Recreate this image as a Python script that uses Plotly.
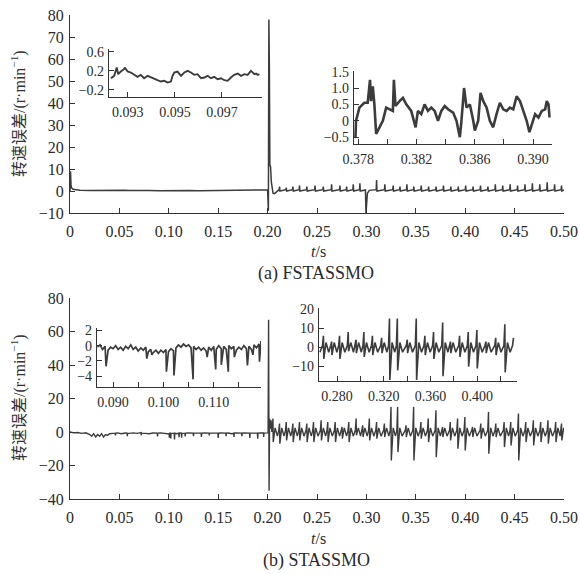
import plotly.graph_objects as go

W_FIG, H_FIG = 580, 574
LINE = "#3c3c3c"
AX = "#333333"
SERIF = "Liberation Serif, Times New Roman, serif"
CJK = "Liberation Serif, Noto Sans CJK SC, serif"

# ---------------- (a) FSTASSMO main trace ----------------
a_t = [0, 0.0005, 0.001, 0.0015, 0.003, 0.006, 0.010, 0.020, 0.030, 0.040, 0.050, 0.055,
       0.060, 0.070, 0.080, 0.090, 0.100, 0.110, 0.120, 0.130, 0.140, 0.150, 0.160, 0.170,
       0.180, 0.185, 0.190, 0.195, 0.2000, 0.2008, 0.2013, 0.2018, 0.2023, 0.2030, 0.2038,
       0.2046, 0.2055, 0.2070, 0.5]
a_v = [0, 9, 3, 1.5, 0.8, 0.5, 0.3, 0.2, 0.3, 0.2, 0.5, 0.3,
       0.2, 0.3, 0.2, 0.1, 0.2, 0.3, 0.2, 0.1, 0.2, 0.3, 0.2, 0.3,
       0.5, 0.4, 0.6, 0.5, 0.5, -9, 78, 55, 12, 11, 4,
       0, -1, -1.2, 0.5]
a_spk_t = [0.2121, 0.2189, 0.2256, 0.2323, 0.2397, 0.2480, 0.2564, 0.2648, 0.2732, 0.2800,
           0.2867, 0.2934, 0.3103, 0.3187, 0.3271, 0.3340, 0.3410, 0.3480, 0.3555, 0.3630,
           0.3705, 0.3780, 0.3855, 0.3930, 0.4005, 0.4080, 0.4155, 0.4230, 0.4305, 0.4380,
           0.4455, 0.4530, 0.4605, 0.4680, 0.4755, 0.4830, 0.4905, 0.4975]
a_spk_h = [2, 1.5, 2, 2.5, 2, 2.5, 2, 3, 2.5, 2,
           3, 3.5, 5, 3, 2.5, 2, 3, 2, 2.5, 2,
           2, 2.5, 2, 2, 2.5, 2, 2.5, 2, 3, 2.5,
           3, 2.5, 3, 3.5, 3, 4, 3, 2.5]
a_base_hi, a_base_lo = 0.6, 0.0
a_dip_t = [0.2990, 0.2996, 0.3001, 0.3010, 0.3030]
a_dip_v = [0.5, -10, -4, -1, 0.3]

# ---------------- (b) STASSMO main trace ----------------
b_pre_t = [0, 0.004, 0.008, 0.012, 0.016,
           0.020, 0.022, 0.024, 0.026, 0.028, 0.030, 0.032, 0.034, 0.036, 0.038, 0.040,
           0.044, 0.048, 0.052, 0.056, 0.060, 0.064, 0.068, 0.072, 0.076, 0.080,
           0.084, 0.088, 0.092, 0.096, 0.100, 0.104, 0.108, 0.112, 0.116, 0.120,
           0.124, 0.128, 0.132, 0.136, 0.140, 0.144, 0.148, 0.152, 0.156, 0.160,
           0.164, 0.168, 0.172, 0.176, 0.180, 0.184, 0.188, 0.192, 0.196, 0.2000]
b_pre_v = [0, -0.5, -0.3, -0.8, -0.5,
           -1.5, -2.5, -1, -3, -1.5, -2.5, -1, -3, -1.5, -2, -1,
           -0.8, -0.5, -1, -0.6, -0.8, -0.5, -0.8, -0.4, -0.8, -1,
           -0.6, -1, -0.5, -0.8, -1.2, -0.8, -1, -0.6, -0.9, -0.5,
           -1, -0.7, -0.9, -0.6, -1, -0.7, -0.8, -0.5, -0.9, -0.6,
           -1, -0.5, -0.8, -0.6, -0.9, -0.7, -0.8, -0.5, -0.6, -0.5]
b_dn_t = [0.046, 0.058, 0.072, 0.0886, 0.1006, 0.1020, 0.1058, 0.1104, 0.1130, 0.1166,
          0.125, 0.133, 0.141, 0.150, 0.158, 0.166, 0.174, 0.182, 0.190, 0.196]
b_dn_v = [-2, -2.5, -2, -2.7, -3.4, -3.9, -4.4, -3.1, -3.4, -2.6,
          -2.5, -3, -2, -3.5, -2.5, -3, -2.5, -3.5, -4, -3]
b_ev_t = [0.2005, 0.2010, 0.2015, 0.2020, 0.2027, 0.2035, 0.2043]
b_ev_v = [-0.5, 67, -35, 8, 2, 7, 0]
b_spk_t = [0.2054, 0.2121, 0.2189, 0.2256, 0.2323, 0.2397, 0.2465, 0.2542, 0.2609, 0.2684,
           0.2754, 0.2822, 0.2896, 0.2963, 0.3030, 0.3103, 0.3182, 0.3249, 0.3316, 0.3401,
           0.3478, 0.3552, 0.3626, 0.3704, 0.3771, 0.3849, 0.3923, 0.3997, 0.4074, 0.4158,
           0.4236, 0.4310, 0.4394, 0.4461, 0.4539, 0.4613, 0.4690, 0.4764, 0.4838, 0.4916,
           0.4975]
b_spk_hi = [8, 5, 6, 5, 6, 5, 6, 7, 6, 6,
            3, 6, 8, 4, 8, 6, 5, 15, 15, 4,
            15, 6, 8, 13, 3, 6, 8, 9, 3, 5,
            12, 5, 6, 6, 11, 6, 7, 6, 7, 6,
            5]
b_spk_lo = [-6, -7, -5, -6, -5, -6, -6, -5, -6, -6,
            -4, -6, -2, -3, -5, -4, -3, -17, -12, -3,
            -17, -4, -6, -15, -3, -5, -10, -11, -3, -4,
            -13, -3, -9, -8, -17, -6, -8, -6, -7, -6,
            -5]
b_zig_hi, b_zig_lo, b_pre_spk = 2.5, -2.5, 1.0

# ---------------- insets ----------------
i1_t = [0.09228, 0.09242, 0.09253, 0.09259, 0.09270, 0.09284, 0.09287, 0.09299, 0.09313, 0.09327,
        0.09341, 0.09355, 0.09369, 0.09384, 0.09398, 0.09412, 0.09426, 0.09440, 0.09455, 0.09469,
        0.09483, 0.09490, 0.09497, 0.09511, 0.09526, 0.09540, 0.09554, 0.09568, 0.09582, 0.09596,
        0.09611, 0.09625, 0.09639, 0.09653, 0.09667, 0.09682, 0.09696, 0.09710, 0.09724, 0.09738,
        0.09752, 0.09767, 0.09781, 0.09795, 0.09809, 0.09823, 0.09830, 0.09838, 0.09845, 0.09852,
        0.09859]
i1_v = [0.045, 0.095, 0.27, 0.13, 0.186, 0.235, 0.27, 0.186, 0.165, 0.116,
        0.074, 0.116, 0.045, 0.095, 0.06, 0.025, 0.003, -0.025, -0.01, -0.046,
        -0.025, 0.095, 0.165, 0.186, 0.095, 0.165, 0.2, 0.165, 0.116, 0.13,
        0.045, 0.06, 0.095, 0.045, 0.074, 0.025, 0.045, 0.003, -0.01, 0.06,
        0.116, 0.144, 0.095, 0.13, 0.116, 0.2, 0.165, 0.13, 0.144, 0.116,
        0.13]

i2_t = [0.37780, 0.37784, 0.37807, 0.37841, 0.37864, 0.37880, 0.37887, 0.37899, 0.37910, 0.37922,
        0.37945, 0.37968, 0.37991, 0.38014, 0.38037, 0.38044, 0.38055, 0.38083, 0.38106, 0.38129,
        0.38163, 0.38193, 0.38209, 0.38232, 0.38255, 0.38278, 0.38301, 0.38324, 0.38347, 0.38370,
        0.38393, 0.38416, 0.38451, 0.38474, 0.38497, 0.38508, 0.38526, 0.38543, 0.38566, 0.38589,
        0.38600, 0.38623, 0.38639, 0.38658, 0.38681, 0.38703, 0.38726, 0.38749, 0.38772, 0.38795,
        0.38818, 0.38841, 0.38864, 0.38887, 0.38910, 0.38933, 0.38956, 0.38975, 0.38991, 0.39014,
        0.39037, 0.39060, 0.39083, 0.39094, 0.39106, 0.39113]
i2_v = [-0.5, 0.0, 0.4, 0.55, 0.55, 1.25, 0.6, 1.05, 0.5, -0.4,
        -0.2, 0.0, 0.4, 0.35, 0.3, 1.25, 0.45, 0.6, 0.7, 0.5,
        0.3, -0.2, 0.3, 0.2, 0.5, 0.3, 0.4, 0.3, 0.0, 0.3,
        0.45, 0.35, 0.25, 0.0, -0.5, 0.0, 1.0, 0.4, 0.5, 0.0,
        -0.3, 0.0, 0.85, 0.6, 0.4, 0.0, -0.2, 0.2, 0.55, 0.35,
        0.3, 0.4, 0.35, 0.75, 0.6, 0.3, 0.0, -0.35, -0.1, 0.2,
        0.1, 0.3, 0.35, 0.6, 0.5, 0.1]

i3_t = [0.0869, 0.0874, 0.0879, 0.0884, 0.0890, 0.0895, 0.0900, 0.0905, 0.0910, 0.0915,
        0.0920, 0.0925, 0.0930, 0.0935, 0.0940, 0.0945, 0.0950, 0.0955, 0.0960, 0.0965,
        0.0970, 0.0975, 0.0980, 0.0985, 0.0990, 0.0995, 0.1000, 0.1005, 0.1010, 0.1015,
        0.1020, 0.1025, 0.1030, 0.1035, 0.1040, 0.1045, 0.1050, 0.1055, 0.1060, 0.1065,
        0.1070, 0.1075, 0.1080, 0.1085, 0.1090, 0.1095, 0.1100, 0.1105, 0.1110, 0.1115,
        0.1120, 0.1125, 0.1130, 0.1135, 0.1140, 0.1145, 0.1150, 0.1155, 0.1160, 0.1165,
        0.1170, 0.1175, 0.1180, 0.1185, 0.1190, 0.1194]
i3_v = [-0.2, 0.1, -0.5, -0.1, -0.6, -0.2, -0.4, 0.0, -0.5, -0.2,
        -0.6, -0.1, -0.4, 0.1, -0.5, -0.2, -0.7, -0.3, -0.6, -0.2,
        -0.8, -0.5, -0.9, -0.6, -1.0, -0.6, -0.9, -0.5, -0.8, -0.4,
        -0.7, -0.3, 0.1, -0.2, 0.2, -0.1, 0.1, -0.3, -0.1, -0.5,
        -0.2, -0.6, -0.3, -0.7, -0.2, -0.6, -0.1, -0.5, 0.0, -0.4,
        -0.1, -0.5, 0.0, -0.4, -0.1, -0.6, -0.2, -0.5, 0.0, -0.4,
        -0.1, -0.5, 0.1, -0.3, 0.2, 0.6]
i3_spk_t = [0.0886, 0.0967, 0.0977, 0.1006, 0.1021, 0.1059, 0.1087, 0.1104, 0.1115, 0.1129,
            0.1141, 0.1167, 0.1178, 0.1191]
i3_spk_v = [-2.7, -1.7, -1.2, -3.4, -3.9, -4.4, -1.5, -3.1, -2.5, -3.4,
            -1.5, -2.6, -1.2, -2.1]

# tick labels (labelled ticks) and unlabelled minor tick positions
main_x_ticks = [0, 0.05, 0.10, 0.15, 0.20, 0.25, 0.30, 0.35, 0.40, 0.45, 0.50]
main_x_text = ["0", "0.05", "0.10", "0.15", "0.20", "0.25", "0.30", "0.35", "0.40", "0.45", "0.50"]
a_y_ticks = [-10, 0, 10, 20, 30, 40, 50, 60, 70, 80]
a_y_text = ["\u221210", "0", "10", "20", "30", "40", "50", "60", "70", "80"]
b_y_ticks = [-40, -20, 0, 20, 40, 60, 80]
b_y_text = ["\u221240", "\u221220", "0", "20", "40", "60", "80"]
i1_x_ticks, i1_x_text = [0.093, 0.095, 0.097], ["0.093", "0.095", "0.097"]
i1_y_ticks, i1_y_text = [-0.2, 0.2, 0.6], ["\u22120.2", "0.2", "0.6"]
i2_x_ticks, i2_x_text = [0.378, 0.382, 0.386, 0.390], ["0.378", "0.382", "0.386", "0.390"]
i2_x_minor = [0.380, 0.384, 0.388]
i2_y_ticks, i2_y_text = [-0.5, 0, 0.5, 1.0, 1.5], ["\u22120.5", "0", "0.5", "1.0", "1.5"]
i3_x_ticks, i3_x_text = [0.090, 0.100, 0.110], ["0.090", "0.100", "0.110"]
i3_x_minor = [0.095, 0.105, 0.115]
i3_y_ticks, i3_y_text = [-4, -2, 0, 2], ["\u22124", "\u22122", "0", "2"]
i4_x_ticks, i4_x_text = [0.28, 0.32, 0.36, 0.40], ["0.280", "0.320", "0.360", "0.400"]
i4_x_minor = [0.30, 0.34, 0.38, 0.42]
i4_y_ticks, i4_y_text = [-10, 0, 10, 20], ["\u221210", "0", "10", "20"]


def merge(*series):
    pts = []
    for ts, vs in series:
        pts += list(zip(ts, vs))
    pts.sort(key=lambda p: p[0])
    return [p[0] for p in pts], [p[1] for p in pts]


# assemble (a): each read spike drawn as a narrow peak on the read baseline
sw = 0.0004
a_sx, a_sy = [], []
for ts, h in zip(a_spk_t, a_spk_h):
    a_sx += [ts - sw, ts, ts + sw]
    a_sy += [a_base_hi, h, a_base_lo]
ax_t, ax_v = merge((a_t, a_v), (a_sx, a_sy), (a_dip_t, a_dip_v))

# assemble (b)
b_sx, b_sy = [], []
for ts, hi, lo in zip(b_spk_t, b_spk_hi, b_spk_lo):
    b_sx += [ts - 0.0008, ts, ts + 0.0003, ts + 0.0022, ts + 0.0045]
    b_sy += [b_pre_spk, hi, lo, b_zig_hi, b_zig_lo]
b_dx, b_dy = [], []
for ts, v in zip(b_dn_t, b_dn_v):
    b_dx += [ts - 0.0003, ts, ts + 0.0003]
    b_dy += [-0.7, v, -0.7]
bx_t, bx_v = merge((b_pre_t, b_pre_v), (b_dx, b_dy), (b_ev_t, b_ev_v), (b_sx, b_sy))

i3x, i3y = merge((i3_t, i3_v), (i3_spk_t, i3_spk_v))
i4x = [t for t in bx_t if 0.2646 <= t <= 0.4312]
i4y = [v for t, v in zip(bx_t, bx_v) if 0.2646 <= t <= 0.4312]

fig = go.Figure()


def line(x, y, xa, ya, w):
    fig.add_trace(go.Scatter(x=x, y=y, mode="lines", xaxis=xa, yaxis=ya,
                             line=dict(color=LINE, width=w), showlegend=False,
                             hoverinfo="skip"))


line(ax_t, ax_v, "x", "y", 1.5)
line(bx_t, bx_v, "x2", "y2", 1.4)
line(i1_t, i1_v, "x3", "y3", 1.9)
line(i2_t, i2_v, "x4", "y4", 2.6)
line(i3x, i3y, "x5", "y5", 1.7)
line(i4x, i4y, "x6", "y6", 1.6)


def px(a, b):
    return [a / W_FIG, b / W_FIG]


def py(top, bot):
    return [1 - bot / H_FIG, 1 - top / H_FIG]


def axis(domain, rng, tv, tt, anchor, size, standoff=2, minor_vals=None):
    d = dict(domain=domain, range=rng, tickmode="array", tickvals=tv, ticktext=tt,
             anchor=anchor, automargin=False, ticklabeloverflow="allow",
             showline=True, linecolor=AX, linewidth=1.2, ticks="inside", ticklen=5,
             tickwidth=1.2, tickcolor=AX, showgrid=False, zeroline=False, mirror=False,
             tickfont=dict(family=SERIF, size=size, color="#2a2a2a"),
             ticklabelstandoff=standoff, fixedrange=True)
    if minor_vals:
        d["minor"] = dict(tickmode="array", tickvals=minor_vals, ticks="inside", ticklen=5,
                          tickwidth=1.2, tickcolor=AX, showgrid=False)
    return d


fig.update_layout(
    width=W_FIG, height=H_FIG, margin=dict(l=0, r=0, t=0, b=0, pad=0), autosize=False,
    paper_bgcolor="white", plot_bgcolor="rgba(0,0,0,0)",
    xaxis=axis(px(70, 564), [0, 0.5], main_x_ticks, main_x_text, "y", 16, 4),
    yaxis=axis(py(15, 213), [-10, 80], a_y_ticks, a_y_text, "x", 16, 2),
    xaxis2=axis(px(70, 564), [0, 0.5], main_x_ticks, main_x_text, "y2", 16, 4),
    yaxis2=axis(py(298, 499), [-40, 80], b_y_ticks, b_y_text, "x2", 16, 2),
    xaxis3=axis(px(109, 262), [0.0922, 0.0987], i1_x_ticks, i1_x_text, "y3", 14, 2),
    yaxis3=axis(py(49, 97), [-0.35, 0.66], i1_y_ticks, i1_y_text, "x3", 14, 1),
    xaxis4=axis(px(354, 552), [0.3777, 0.3913], i2_x_ticks, i2_x_text, "y4", 14, 2, i2_x_minor),
    yaxis4=axis(py(71, 144), [-0.71, 1.52], i2_y_ticks, i2_y_text, "x4", 14, 1),
    xaxis5=axis(px(97, 261), [0.0868, 0.1194], i3_x_ticks, i3_x_text, "y5", 14, 2, i3_x_minor),
    yaxis5=axis(py(328, 387), [-5.4, 2.3], i3_y_ticks, i3_y_text, "x5", 14, 1),
    xaxis6=axis(px(319, 517), [0.2646, 0.434], i4_x_ticks, i4_x_text, "y6", 14, 2, i4_x_minor),
    yaxis6=axis(py(308, 381), [-17.5, 20.5], i4_y_ticks, i4_y_text, "x6", 14, 1),
)


def pxx(x):
    return x / W_FIG


def pyy(y):
    return 1 - y / H_FIG


ann = [
    dict(text="转速误差/(r·min<sup>−1</sup>)", x=pxx(18), y=pyy(114), textangle=-90,
         font=dict(family=CJK, size=16, color="#333")),
    dict(text="转速误差/(r·min<sup>−1</sup>)", x=pxx(18), y=pyy(398), textangle=-90,
         font=dict(family=CJK, size=16, color="#333")),
    dict(text="<i>t</i>/s", x=pxx(318), y=pyy(252),
         font=dict(family=SERIF, size=16, color="#2a2a2a")),
    dict(text="(a) FSTASSMO", x=pxx(316), y=pyy(273),
         font=dict(family=SERIF, size=18, color="#2a2a2a")),
    dict(text="<i>t</i>/s", x=pxx(318), y=pyy(538),
         font=dict(family=SERIF, size=16, color="#2a2a2a")),
    dict(text="(b) STASSMO", x=pxx(316), y=pyy(560),
         font=dict(family=SERIF, size=18, color="#2a2a2a")),
]
for a in ann:
    a.update(xref="paper", yref="paper", showarrow=False, xanchor="center", yanchor="middle")
fig.update_layout(annotations=ann)

# remove the page's default body margin so the 580x574 figure fills the window exactly
fig.write_html("out.html", config={"displayModeBar": False},
               post_script="document.body.style.margin='0';document.body.style.overflow='hidden';")
